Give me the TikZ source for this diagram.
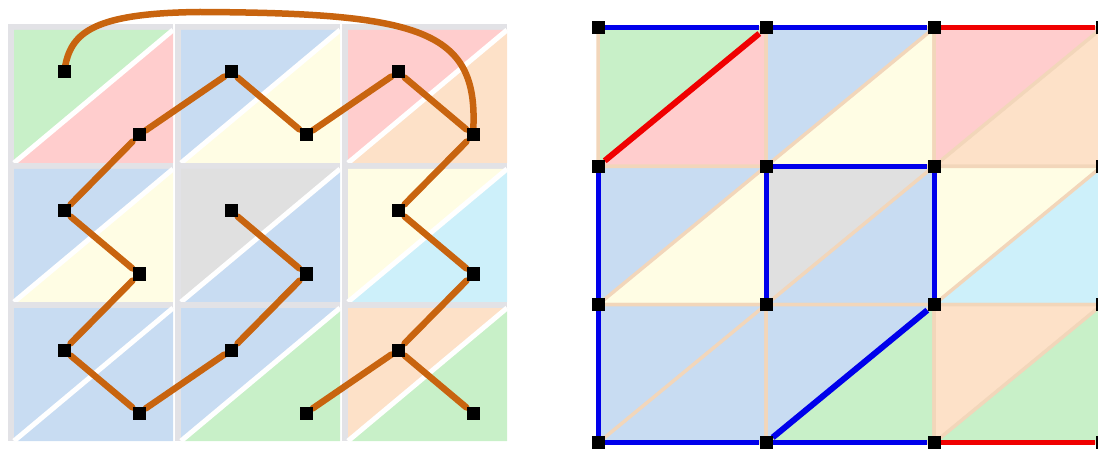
\documentclass[tikz,border=0pt]{standalone}
\usepackage{xcolor}
\usepackage{tikz}
\usetikzlibrary{
    positioning,
    backgrounds,
}
\definecolor{tgreen}{RGB}{200,240,200}
\definecolor{tpink}{RGB}{255,205,205}
\definecolor{tblue}{RGB}{200,220,242}
\definecolor{tyellow}{RGB}{255,253,228}
\definecolor{tpeach}{RGB}{253,225,200}
\definecolor{tgray}{RGB}{224,224,224}
\definecolor{tcyan}{RGB}{205,240,250}
\definecolor{tshade}{RGB}{226,226,230}
\definecolor{tline}{RGB}{242,214,186}
\definecolor{treebrown}{RGB}{200,100,15}
\definecolor{cutblue}{RGB}{0,0,235}
\definecolor{cutred}{RGB}{240,0,0}
\tikzset{
    % Node styles
    vertex/.style={rectangle, fill=black, minimum size=13pt, inner sep=0pt},
    % Edge styles
    tree edge/.style={draw=treebrown, line width=6.5pt, line cap=round},
    cut edge/.style={draw=cutblue, line width=5pt},
    loop edge/.style={draw=cutred, line width=5pt},
    % Cell styles
    cell line/.style={draw=tline, line width=3.5pt, line join=round},
}

\begin{document}
\begin{tikzpicture}[x=1pt, y=-1pt]
    \useasboundingbox (0,0) rectangle (1098,449);

    % Left: split cells and dual nodes
    \foreach \r/\c/\ca/\cb in {1/1/tgreen/tpink, 1/2/tblue/tyellow, 1/3/tpink/tpeach,
                               2/1/tblue/tyellow, 2/2/tgray/tblue, 2/3/tyellow/tcyan,
                               3/1/tblue/tblue, 3/2/tblue/tgreen, 3/3/tpeach/tgreen} {
        \pgfmathsetmacro\xa{14+167*(\c-1)}
        \pgfmathsetmacro\ya{30+139*(\r-1)}
        \pgfmathsetmacro\xb{\xa+159}
        \pgfmathsetmacro\yb{\ya+133}
        \begin{pgfonlayer}{background}
            \fill[tshade] (\xa-6,\ya-6) rectangle (\xb,\yb);
            \fill[\ca] (\xa,\ya) -- (\xb,\ya) -- (\xa,\yb) -- cycle;
            \fill[\cb] (\xb,\ya) -- (\xb,\yb) -- (\xa,\yb) -- cycle;
            \draw[white, line width=5pt] (\xa,\yb) -- (\xb,\ya);
        \end{pgfonlayer}
        \node[vertex] (u\r\c) at (\xa+50,\ya+42) {};
        \node[vertex] (l\r\c) at (\xa+125,\ya+105) {};
    }

    % Right: cells of the grid
    \foreach \r/\c/\ca/\cb in {1/1/tgreen/tpink, 1/2/tblue/tyellow, 1/3/tpink/tpeach,
                               2/1/tblue/tyellow, 2/2/tgray/tblue, 2/3/tyellow/tcyan,
                               3/1/tblue/tblue, 3/2/tblue/tgreen, 3/3/tpeach/tgreen} {
        \pgfmathsetmacro\xa{598+168*(\c-1)}
        \pgfmathsetmacro\ya{28+138.33*(\r-1)}
        \pgfmathsetmacro\xb{\xa+168}
        \pgfmathsetmacro\yb{\ya+138.33}
        \begin{pgfonlayer}{background}
            \fill[\ca] (\xa,\ya) -- (\xb,\ya) -- (\xa,\yb) -- cycle;
            \fill[\cb] (\xb,\ya) -- (\xb,\yb) -- (\xa,\yb) -- cycle;
            \draw[cell line] (\xa,\ya) rectangle (\xb,\yb) (\xa,\yb) -- (\xb,\ya);
        \end{pgfonlayer}
    }
    \foreach \i in {0,...,3}
        \foreach \j in {0,...,3}
            \node[vertex] (v\i\j) at ({598+168*\j},{28+138.33*\i}) {};

    \begin{pgfonlayer}{background}
        % Tree on the left
        \draw[tree edge] (u11) .. controls (72,32) and (95,13) .. (200,12)
                               .. controls (420,13) and (478,30) .. (l13);
        \draw[tree edge] (l11) -- (u12);
        \draw[tree edge] (u12) -- (l12);
        \draw[tree edge] (l12) -- (u13);
        \draw[tree edge] (u13) -- (l13);
        \draw[tree edge] (l11) -- (u21);
        \draw[tree edge] (u21) -- (l21);
        \draw[tree edge] (l21) -- (u31);
        \draw[tree edge] (u31) -- (l31);
        \draw[tree edge] (l31) -- (u32);
        \draw[tree edge] (u32) -- (l22);
        \draw[tree edge] (l22) -- (u22);
        \draw[tree edge] (l13) -- (u23);
        \draw[tree edge] (u23) -- (l23);
        \draw[tree edge] (l23) -- (u33);
        \draw[tree edge] (u33) -- (l32);
        \draw[tree edge] (u33) -- (l33);

        % Cut on the right
        \draw[cut edge] (v00) -- (v01);
        \draw[cut edge] (v01) -- (v02);
        \draw[loop edge] (v02) -- (v03);
        \draw[loop edge, line width=6pt] (v10) -- (v01);
        \draw[cut edge] (v10) -- (v20);
        \draw[cut edge] (v20) -- (v30);
        \draw[cut edge] (v30) -- (v31);
        \draw[cut edge] (v31) -- (v32);
        \draw[loop edge] (v32) -- (v33);
        \draw[cut edge] (v21) -- (v11);
        \draw[cut edge] (v11) -- (v12);
        \draw[cut edge] (v12) -- (v22);
        \draw[cut edge, line width=6pt] (v31) -- (v22);
    \end{pgfonlayer}
\end{tikzpicture}
\end{document}
